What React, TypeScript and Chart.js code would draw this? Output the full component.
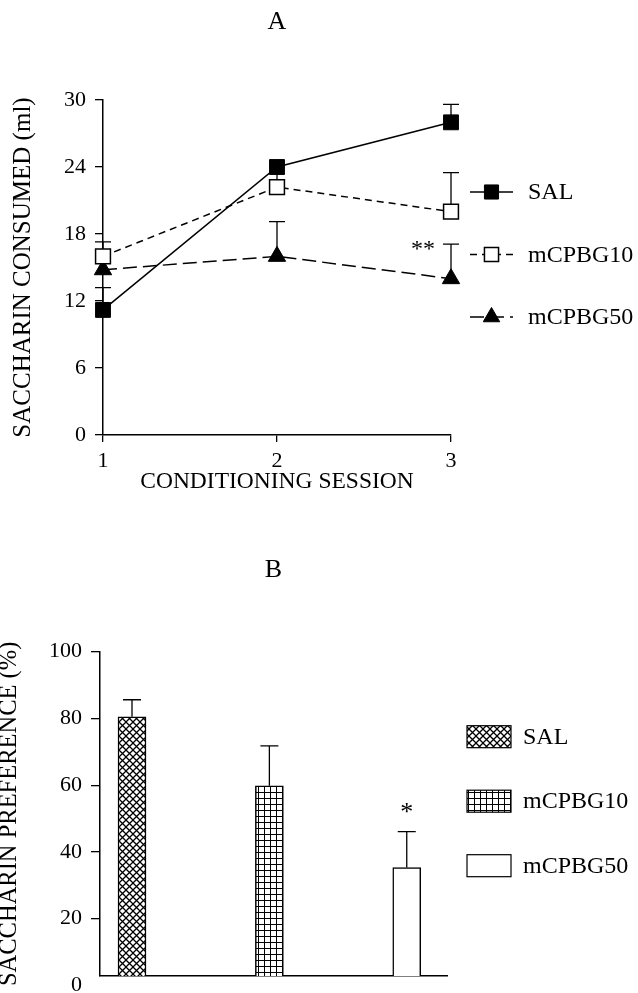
import React, { useEffect, useRef } from 'react';
import { Chart, registerables } from 'chart.js';

Chart.register(...registerables);

// ---------- Panel A data ----------
const SESSIONS = ['1', '2', '3'];
const SERIES_A = ['SAL', 'mCPBG10', 'mCPBG50'];
const SAL_ML = [11.2, 24.0, 28.0];
const SAL_ML_ERR = [2.0, 0.4, 1.6];
const M10_ML = [16.0, 22.2, 20.0];
const M10_ML_ERR = [1.3, 1.2, 3.5];
const M50_ML = [14.8, 16.0, 14.0];
const M50_ML_ERR = [0.8, 3.1, 3.1];
const Y_TICKS_A = [0, 6, 12, 18, 24, 30];
const SIG_A = [{ dataset: 2, index: 2, text: '**' }];

// ---------- Panel B data ----------
const GROUPS = ['SAL', 'mCPBG10', 'mCPBG50'];
const GROUP_POS = [1, 2, 3];
const PREF = [80.5, 59.8, 35.3];
const PREF_ERR = [5.1, 12.0, 10.8];
const Y_TICKS_B = [0, 20, 40, 60, 80, 100];
const Y_MIN_B = 2.8;
const SIG_B = [{ dataset: 0, index: 2, text: '*' }];

const FONT = '"Liberation Serif", "Times New Roman", serif';

function drawMarker(ctx: CanvasRenderingContext2D, style: string, x: number, y: number, r: number, fill: string, stroke: string, bw: number) {
  ctx.save();
  ctx.beginPath();
  if (style === 'rect') {
    const s = Math.SQRT1_2 * r;
    ctx.rect(x - s, y - s, 2 * s, 2 * s);
  } else {
    ctx.moveTo(x, y - r);
    ctx.lineTo(x + Math.sin(Math.PI * 2 / 3) * r, y + 0.5 * r);
    ctx.lineTo(x - Math.sin(Math.PI * 2 / 3) * r, y + 0.5 * r);
    ctx.closePath();
  }
  ctx.fillStyle = fill;
  ctx.fill();
  ctx.lineWidth = bw;
  ctx.strokeStyle = stroke;
  ctx.stroke();
  ctx.restore();
}

function errorBarPlugin(capHalf: number) {
  return {
    id: 'errBars',
    beforeDatasetsDraw(chart: any) {
      const ctx = chart.ctx;
      const ys = chart.scales.y;
      chart.data.datasets.forEach((ds: any, di: number) => {
        const errs = ds.errors;
        if (!errs) return;
        const meta = chart.getDatasetMeta(di);
        meta.data.forEach((el: any, i: number) => {
          const v = meta.controller.getParsed(i).y;
          const top = ys.getPixelForValue(v + errs[i]);
          ctx.save();
          ctx.strokeStyle = '#000';
          ctx.lineWidth = 1.3;
          ctx.beginPath();
          ctx.moveTo(el.x, el.y);
          ctx.lineTo(el.x, top);
          ctx.moveTo(el.x - capHalf, top);
          ctx.lineTo(el.x + capHalf, top);
          ctx.stroke();
          ctx.restore();
        });
      });
    },
  };
}

function sigPlugin(items: any[], dx: number, dy: number, size: number) {
  return {
    id: 'sig',
    afterDatasetsDraw(chart: any) {
      const ctx = chart.ctx;
      const ys = chart.scales.y;
      items.forEach((it) => {
        const ds: any = chart.data.datasets[it.dataset];
        const meta = chart.getDatasetMeta(it.dataset);
        const el = meta.data[it.index];
        const v = meta.controller.getParsed(it.index).y;
        const top = ys.getPixelForValue(v + (ds.errors ? ds.errors[it.index] : 0));
        ctx.save();
        ctx.font = `${size}px ${FONT}`;
        ctx.fillStyle = '#000';
        ctx.textAlign = 'center';
        ctx.textBaseline = 'alphabetic';
        ctx.fillText(it.text, el.x + dx, top + dy);
        ctx.restore();
      });
    },
  };
}

const lineLegendPlugin = {
  id: 'lineLegend',
  afterDraw(chart: any) {
    const { ctx, chartArea } = chart;
    chart.data.datasets.forEach((ds: any, i: number) => {
      const y = chartArea.top + 92 + i * 62.5;
      const x0 = chartArea.right + 19;
      const x1 = x0 + 43;
      ctx.save();
      ctx.strokeStyle = ds.borderColor;
      ctx.lineWidth = ds.borderWidth;
      ctx.setLineDash(ds.borderDash || []);
      ctx.beginPath();
      ctx.moveTo(x0, y);
      ctx.lineTo(x1, y);
      ctx.stroke();
      ctx.setLineDash([]);
      ctx.restore();
      drawMarker(ctx, ds.pointStyle, (x0 + x1) / 2, y, ds.pointRadius * 0.95, ds.pointBackgroundColor, ds.pointBorderColor, ds.pointBorderWidth);
      ctx.save();
      ctx.font = `24px ${FONT}`;
      ctx.fillStyle = '#000';
      ctx.textAlign = 'left';
      ctx.textBaseline = 'middle';
      ctx.fillText(ds.label, x0 + 58, y + 1);
      ctx.restore();
    });
  },
};

const boxLegendPlugin = {
  id: 'boxLegend',
  afterDraw(chart: any) {
    const { ctx, chartArea } = chart;
    const ds: any = chart.data.datasets[0];
    chart.data.labels.forEach((lab: string, i: number) => {
      const cy = chartArea.top + 85 + i * 64.5;
      const x0 = chartArea.right + 20;
      ctx.save();
      ctx.fillStyle = ds.backgroundColor[i];
      ctx.fillRect(x0, cy - 11, 44, 22);
      ctx.strokeStyle = '#000';
      ctx.lineWidth = 1.2;
      ctx.strokeRect(x0, cy - 11, 44, 22);
      ctx.font = `24px ${FONT}`;
      ctx.fillStyle = '#000';
      ctx.textAlign = 'left';
      ctx.textBaseline = 'middle';
      ctx.fillText(lab, x0 + 56, cy + 1);
      ctx.restore();
    });
  },
};

function makeCrossHatch(): CanvasPattern | string {
  const c = document.createElement('canvas');
  c.width = 7; c.height = 7;
  const g = c.getContext('2d')!;
  g.fillStyle = '#fff';
  g.fillRect(0, 0, 7, 7);
  g.strokeStyle = '#000';
  g.lineWidth = 1.3;
  g.beginPath();
  g.moveTo(-1, -1); g.lineTo(8, 8);
  g.moveTo(8, -1); g.lineTo(-1, 8);
  g.stroke();
  return g.createPattern(c, 'repeat') || '#888';
}

function makeGrid(): CanvasPattern | string {
  const c = document.createElement('canvas');
  c.width = 6; c.height = 6;
  const g = c.getContext('2d')!;
  g.fillStyle = '#fff';
  g.fillRect(0, 0, 6, 6);
  g.fillStyle = '#000';
  g.fillRect(0, 0, 6, 1);
  g.fillRect(0, 0, 1, 6);
  return g.createPattern(c, 'repeat') || '#888';
}

const axisCommon = {
  border: { display: true, color: '#000', width: 1.5 },
};

export default function App() {
  const refA = useRef<HTMLCanvasElement>(null);
  const refB = useRef<HTMLCanvasElement>(null);

  useEffect(() => {
    Chart.defaults.font.family = FONT;
    Chart.defaults.color = '#000';

    const chartA = new Chart(refA.current!, {
      type: 'line',
      data: {
        labels: SESSIONS,
        datasets: [
          { label: SERIES_A[0], data: SAL_ML, errors: SAL_ML_ERR, borderColor: '#000', borderWidth: 1.5, borderDash: [], pointStyle: 'rect', pointRadius: 10.5, pointBackgroundColor: '#000', pointBorderColor: '#000', pointBorderWidth: 1, tension: 0, clip: false } as any,
          { label: SERIES_A[1], data: M10_ML, errors: M10_ML_ERR, borderColor: '#000', borderWidth: 1.5, borderDash: [7, 5], pointStyle: 'rect', pointRadius: 10.5, pointBackgroundColor: '#fff', pointBorderColor: '#000', pointBorderWidth: 1.5, tension: 0, clip: false } as any,
          { label: SERIES_A[2], data: M50_ML, errors: M50_ML_ERR, borderColor: '#000', borderWidth: 1.5, borderDash: [14, 6], pointStyle: 'triangle', pointRadius: 10, pointBackgroundColor: '#000', pointBorderColor: '#000', pointBorderWidth: 1, tension: 0, clip: false } as any,
        ],
      },
      options: {
        responsive: false,
        animation: false,
        layout: { padding: { left: 0, right: 187, top: 0, bottom: 0 } },
        plugins: {
          legend: { display: false },
          tooltip: { enabled: false },
          title: { display: true, text: 'A', fullSize: false, color: '#000', font: { size: 26, weight: 'normal' }, padding: { top: 6.4, bottom: 62.4 } },
        },
        scales: {
          x: {
            type: 'category',
            offset: false,
            ...axisCommon,
            grid: { display: true, drawOnChartArea: false, drawTicks: true, tickLength: 7, color: '#000', lineWidth: 1.3 },
            ticks: { color: '#000', font: { size: 22 }, padding: 6.3, maxRotation: 0 },
            title: { display: true, text: 'CONDITIONING SESSION', color: '#000', font: { size: 23.5 }, padding: { top: 0, bottom: 3.9 } },
            afterFit: (s: any) => { s.height = 65; },
          },
          y: {
            min: 0,
            max: 30,
            ...axisCommon,
            afterBuildTicks: (s: any) => { s.ticks = Y_TICKS_A.map((v) => ({ value: v })); },
            grid: { display: true, drawOnChartArea: false, drawTicks: true, tickLength: 8, color: '#000', lineWidth: 1.3 },
            ticks: { color: '#000', font: { size: 22 }, padding: 9 },
            title: { display: true, text: 'SACCHARIN CONSUMED (ml)', color: '#000', font: { size: 25 }, padding: { top: 8, bottom: 0 } },
            afterFit: (s: any) => { s.width = 103; },
          },
        },
      } as any,
      plugins: [errorBarPlugin(8), sigPlugin(SIG_A, -28, 12, 24), lineLegendPlugin],
    });

    const patterns = [makeCrossHatch(), makeGrid(), '#fff'];

    const chartB = new Chart(refB.current!, {
      type: 'bar',
      data: {
        labels: GROUPS,
        datasets: [
          {
            label: 'Preference',
            data: GROUP_POS.map((x, i) => ({ x, y: PREF[i] })),
            errors: PREF_ERR,
            backgroundColor: patterns,
            borderColor: '#000',
            borderWidth: 1.5,
            barThickness: 28,
            base: Y_MIN_B,
          } as any,
        ],
      },
      options: {
        responsive: false,
        animation: false,
        layout: { padding: { left: 0, right: 191, top: 0, bottom: 0 } },
        plugins: {
          legend: { display: false },
          tooltip: { enabled: false },
          title: { display: true, text: 'B', fullSize: false, color: '#000', font: { size: 26, weight: 'normal' }, padding: { top: 14.4, bottom: 66.1 } },
        },
        scales: {
          x: {
            type: 'linear',
            min: 0.767,
            max: 3.293,
            offset: false,
            ...axisCommon,
            grid: { display: true, offset: false, drawOnChartArea: false, drawTicks: false },
            ticks: { display: false },
            afterFit: (s: any) => { s.height = 24; },
          },
          y: {
            min: Y_MIN_B,
            max: 100,
            ...axisCommon,
            afterBuildTicks: (s: any) => { s.ticks = Y_TICKS_B.map((v) => ({ value: v })); },
            grid: {
              display: true, drawOnChartArea: false, drawTicks: true, tickLength: 9, lineWidth: 1.3,
              color: (c: any) => (c.tick && c.tick.value === 0 ? 'rgba(0,0,0,0)' : '#000'),
            },
            ticks: { color: '#000', font: { size: 22 }, padding: 9 },
            title: { display: true, text: 'SACCHARIN PREFERENCE (%)', color: '#000', font: { size: 24.5 }, padding: { top: -4.7, bottom: 0 } },
            afterFit: (s: any) => { s.width = 100; },
          },
        },
      } as any,
      plugins: [errorBarPlugin(9), sigPlugin(SIG_B, 0, -12, 26), boxLegendPlugin],
    });

    return () => {
      chartA.destroy();
      chartB.destroy();
    };
  }, []);

  return (
    <div style={{ position: 'absolute', left: 0, top: 0, width: 638, height: 993, overflow: 'hidden', background: '#fff' }}>
      <canvas ref={refA} width={638} height={500} style={{ position: 'absolute', left: 0, top: 0, width: 638, height: 500 }} />
      <canvas ref={refB} width={638} height={460} style={{ position: 'absolute', left: 0, top: 540, width: 638, height: 460 }} />
    </div>
  );
}
